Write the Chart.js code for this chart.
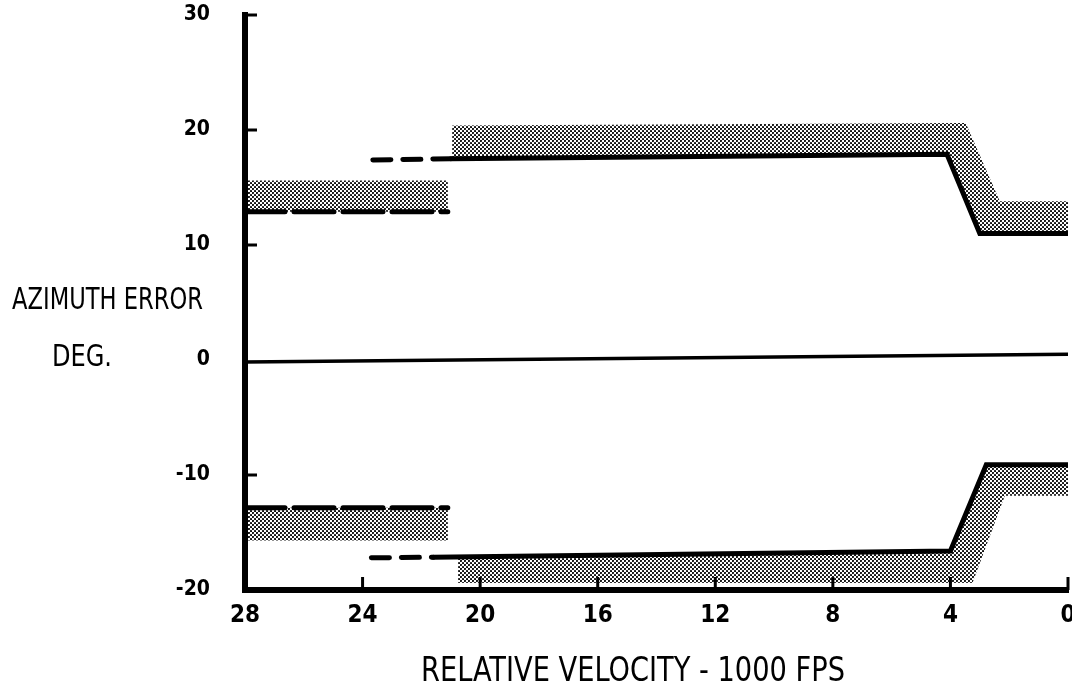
<!DOCTYPE html>
<html>
<head>
<meta charset="utf-8">
<script src="https://cdn.jsdelivr.net/npm/chart.js@4"></script>
<style>
    html, body { margin: 0; padding: 0; background: #fff; }
    #wrap { width: 1072px; height: 685px; }
</style>
</head>
<body>
<div id="wrap"><canvas id="azimuthChart" width="1072" height="685"></canvas></div>
<script>
// axis ticks and titles
const xTickValues = [28, 24, 20, 16, 12, 8, 4, 0];
const yTickValues = [-20, -10, 0, 10, 20, 30];
const yTitleLines = ['AZIMUTH ERROR', 'DEG.'];
const xTitle = 'RELATIVE VELOCITY - 1000 FPS';

// upper error limits (velocity in 1000 fps, error in deg)
const upperLeftDash = [{x: 28, y: 12.9}, {x: 21.1, y: 12.9}];
const upperMidDash = [{x: 23.65, y: 17.4}, {x: 21.0, y: 17.5}];
const upperSolid = [{x: 21.0, y: 17.5}, {x: 4.12, y: 17.9}, {x: 3.0, y: 11.0}, {x: 0, y: 11.0}];
const upperLeftBand = [{x: 28, y: 12.9}, {x: 21.1, y: 12.9}, {x: 21.1, y: 15.6}, {x: 28, y: 15.6}];
const upperBand = [{x: 20.95, y: 17.5}, {x: 20.95, y: 20.4}, {x: 3.48, y: 20.6}, {x: 2.32, y: 13.8},
                   {x: 0, y: 13.8}, {x: 0, y: 11.0}, {x: 3.0, y: 11.0}, {x: 4.12, y: 17.9}];

// zero reference
const zeroLine = [{x: 28, y: -0.17}, {x: 0, y: 0.5}];

// lower error limits
const lowerLeftDash = [{x: 28, y: -12.85}, {x: 21.1, y: -12.85}];
const lowerMidDash = [{x: 23.7, y: -17.2}, {x: 21.6, y: -17.15}];
const lowerSolid = [{x: 21.6, y: -17.15}, {x: 4.0, y: -16.6}, {x: 2.78, y: -9.1}, {x: 0, y: -9.1}];
const lowerLeftBand = [{x: 28, y: -12.85}, {x: 21.1, y: -12.85}, {x: 21.1, y: -15.7}, {x: 28, y: -15.7}];
const lowerBand = [{x: 20.75, y: -17.1}, {x: 4.0, y: -16.6}, {x: 2.78, y: -9.1}, {x: 0, y: -9.1},
                   {x: 0, y: -11.8}, {x: 2.15, y: -11.8}, {x: 3.25, y: -19.4}, {x: 20.75, y: -19.4}];

const FONT = "'Liberation Sans Narrow', 'DejaVu Sans Condensed', 'Liberation Sans', sans-serif";

function dotPattern() {
    const c = document.createElement('canvas');
    c.width = 4;
    c.height = 4;
    const g = c.getContext('2d');
    g.fillStyle = '#000';
    [[1, 1], [3, 3]].forEach(function(p) {
        g.beginPath();
        g.arc(p[0], p[1], 1.05, 0, Math.PI * 2);
        g.fill();
    });
    return g.createPattern(c, 'repeat');
}

const dots = dotPattern();

function lineSet(data, width, dash) {
    return {
        data: data,
        borderColor: '#000',
        borderWidth: width,
        borderDash: dash || [],
        borderCapStyle: 'round',
        pointRadius: 0,
        fill: false,
        tension: 0,
        order: 1
    };
}

function bandSet(data) {
    return {
        data: data,
        borderColor: 'rgba(0,0,0,0)',
        borderWidth: 1,
        backgroundColor: dots,
        pointRadius: 0,
        fill: 'shape',
        tension: 0,
        order: 2
    };
}

function drawFitted(ctx, text, x, y, width, font) {
    ctx.font = font;
    const w = ctx.measureText(text).width;
    ctx.save();
    ctx.translate(x, y);
    ctx.scale(width / w, 1);
    ctx.fillText(text, 0, 0);
    ctx.restore();
}

function noPadding(scale) {
    scale.paddingTop = 0;
    scale.paddingBottom = 0;
    scale.paddingLeft = 0;
    scale.paddingRight = 0;
}

// inward tick marks and the free-standing titles
const decorPlugin = {
    id: 'decor',
    afterDraw(chart) {
        const ctx = chart.ctx;
        const xs = chart.scales.x;
        const ys = chart.scales.y;
        ctx.save();
        ctx.strokeStyle = '#000';
        ctx.lineWidth = 3;
        yTickValues.forEach(function(v) {
            if (v === -20 || v === 0) return;
            const py = ys.getPixelForValue(v);
            ctx.beginPath();
            ctx.moveTo(xs.left, py);
            ctx.lineTo(xs.left + 12, py);
            ctx.stroke();
        });
        xTickValues.forEach(function(v) {
            if (v === 28) return;
            const px = xs.getPixelForValue(v);
            ctx.beginPath();
            ctx.moveTo(px, ys.bottom);
            ctx.lineTo(px, ys.bottom - 13);
            ctx.stroke();
        });
        ctx.fillStyle = '#000';
        ctx.textBaseline = 'alphabetic';
        drawFitted(ctx, yTitleLines[0], 12, 309, 191, '30px ' + FONT);
        drawFitted(ctx, yTitleLines[1], 52, 366, 60, '30px ' + FONT);
        drawFitted(ctx, xTitle, 421, 681, 424, '33px ' + FONT);
        ctx.restore();
    }
};

document.addEventListener('DOMContentLoaded', function() {
    const ctx = document.getElementById('azimuthChart').getContext('2d');
    const chart = new Chart(ctx, {
        type: 'line',
        data: {
            datasets: [
                lineSet(upperSolid, 5),
                lineSet(upperMidDash, 5, [18, 12]),
                lineSet(upperLeftDash, 5, [40, 9]),
                lineSet(zeroLine, 3.5),
                lineSet(lowerSolid, 5),
                lineSet(lowerMidDash, 5, [18, 12]),
                lineSet(lowerLeftDash, 5, [40, 9]),
                bandSet(upperLeftBand),
                bandSet(upperBand),
                bandSet(lowerLeftBand),
                bandSet(lowerBand)
            ]
        },
        options: {
            responsive: false,
            animation: false,
            devicePixelRatio: 1,
            layout: {
                padding: { top: 15, right: 4, left: 0, bottom: 0 }
            },
            plugins: {
                legend: { display: false },
                tooltip: { enabled: false },
                title: { display: false }
            },
            scales: {
                x: {
                    type: 'linear',
                    reverse: true,
                    min: 0,
                    max: 28,
                    afterBuildTicks: function(scale) {
                        scale.ticks = xTickValues.map(function(v) { return {value: v}; });
                    },
                    afterFit: function(scale) { scale.height = 95; noPadding(scale); },
                    grid: { display: false, drawTicks: false },
                    border: { display: true, width: 6, color: '#000' },
                    ticks: {
                        color: '#000',
                        padding: 11,
                        maxRotation: 0,
                        font: { family: FONT, size: 24, weight: 'bold' }
                    }
                },
                y: {
                    type: 'linear',
                    min: -20,
                    max: 30,
                    afterBuildTicks: function(scale) {
                        scale.ticks = yTickValues.map(function(v) { return {value: v}; });
                    },
                    afterFit: function(scale) { scale.width = 245; noPadding(scale); },
                    grid: { display: false, drawTicks: false },
                    border: { display: true, width: 6, color: '#000' },
                    ticks: {
                        color: '#000',
                        padding: 35,
                        font: { family: FONT, size: 21, weight: 'bold' }
                    }
                }
            }
        },
        plugins: [decorPlugin]
    });
});
</script>
</body>
</html>
